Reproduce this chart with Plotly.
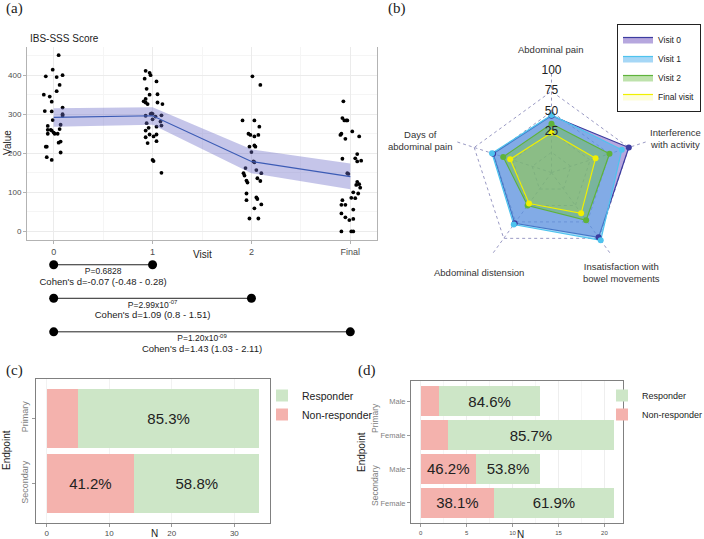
import plotly.graph_objects as go

W, H = 704, 539


def px(x):
    return x / W


def py(y):
    return 1 - y / H


SANS = "Liberation Sans"
SERIF = "Liberation Serif"
GREY_TXT = "#4d4d4d"

# ---------------- panel (a): IBS-SSS score per visit ----------------
visit_ticks = [0, 1, 2, 3]
visit_labels = ["0", "1", "2", "Final"]

# jitter and score for each patient point
v0_jit = [0.05, -0.01, -0.08, 0.09, 0.03, 0.06, 0.03, -0.10, -0.04, -0.02, -0.09,
          -0.02, 0.09, 0.09, 0.09, -0.01, 0.07, -0.06, -0.06, -0.03, -0.02, 0.06,
          0.00, 0.01, 0.04, -0.06, 0.05, 0.07, -0.08, -0.07, 0.07, -0.07, -0.02]
v0_score = [451, 414, 397, 400, 395, 375, 359, 350, 345, 332, 308,
            307, 317, 300, 296, 285, 273, 270, 260, 260, 258, 262,
            253, 250, 250, 250, 227, 230, 217, 217, 202, 190, 183]

v1_jit = [-0.07, -0.03, -0.02, -0.08, 0.04, -0.06, -0.03, 0.05, -0.07, -0.09, -0.07,
          -0.05, 0.05, 0.10, -0.01, -0.02, 0.00, -0.07, 0.09, 0.03, 0.00, 0.08,
          0.09, -0.06, 0.04, -0.04, -0.07, -0.03, 0.04, -0.07, 0.01, 0.04, -0.05,
          0.00, 0.01, 0.09]
v1_score = [411, 406, 400, 391, 384, 365, 350, 351, 339, 333, 330,
            326, 330, 326, 302, 301, 301, 296, 297, 294, 287, 281,
            271, 277, 268, 265, 258, 248, 248, 241, 243, 231, 226,
            183, 180, 150]

v2_jit = [0.01, 0.09, -0.09, 0.03, 0.08, -0.03, -0.01, 0.03, 0.07, 0.03, 0.04,
          -0.02, 0.00, 0.02, 0.03, -0.06, -0.08, -0.07, 0.05, 0.10, 0.06, -0.05,
          -0.04, 0.09, -0.05, -0.05, 0.05, 0.06, 0.10, 0.03, -0.02, 0.07]
v2_score = [397, 375, 284, 284, 268, 250, 247, 243, 247, 220, 217,
            217, 203, 179, 177, 162, 149, 143, 157, 149, 136, 130,
            125, 129, 97, 80, 87, 83, 69, 59, 33, 33]

v3_jit = [-0.07, -0.08, -0.06, -0.04, -0.03, -0.09, -0.10, 0.02, -0.05, 0.09, 0.07,
          0.05, -0.08, -0.03, -0.02, 0.07, 0.07, 0.06, 0.09, 0.03, 0.08, 0.01,
          0.05, -0.08, -0.09, -0.05, -0.09, 0.03, -0.05, -0.01, 0.03, -0.09, 0.01,
          0.03, 0.10, 0.11]
v3_score = [333, 290, 284, 284, 284, 250, 247, 256, 237, 243, 198,
            187, 186, 149, 147, 179, 127, 119, 121, 100, 97, 86,
            85, 80, 68, 68, 46, 56, 36, 29, 32, 0, 0,
            0, 112, 181]

mean_score = [292, 296, 179, 140]
ci_low = [268, 273, 149, 108]
ci_high = [315, 318, 210, 174]

# pairwise comparisons with visit 0
comp_start = [0, 0, 0]
comp_end = [1, 2, 3]
comp_row = [1, 2, 3]
p_text = ["P=0.6828", "P=2.99x10<sup>-07</sup>", "P=1.20x10<sup>-09</sup>"]
cohen_text = ["Cohen's d=-0.07 (-0.48 - 0.28)",
              "Cohen's d=1.09 (0.8 - 1.51)",
              "Cohen's d=1.43 (1.03 - 2.11)"]

# ---------------- panel (b): radar chart ----------------
radar_axes = ["Abdominal pain", "Interference<br>with activity",
              "Insatisfaction with<br>bowel movements", "Abdominal distension",
              "Days of<br>abdominal pain"]
radar_ticks = [0, 25, 50, 75, 100]
visit0_vals = [45, 75, 73.5, 52, 50.5]
visit1_vals = [46, 66, 78, 54, 52]
visit2_vals = [35, 50, 47.5, 25, 37.5]
final_vals = [24, 32, 37, 22, 28.5]

# ---------------- panel (c): responders by endpoint ----------------
endpoints_c = ["Primary", "Secondary"]
nonresp_c = [5, 14]
resp_c = [29, 20]
nonresp_c_lbl = [None, "41.2%"]
resp_c_lbl = ["85.3%", "58.8%"]

# ---------------- panel (d): responders by endpoint and sex ----------------
endpoint_d = ["Primary", "Primary", "Secondary", "Secondary"]
sex_d = ["Male", "Female", "Male", "Female"]
nonresp_d = [2, 3, 6, 8]
resp_d = [11, 18, 7, 13]
nonresp_d_lbl = [None, None, "46.2%", "38.1%"]
resp_d_lbl = ["84.6%", "85.7%", "53.8%", "61.9%"]

RESP_COL = "#cde6c7"
NONRESP_COL = "#f4b2ad"

fig = go.Figure()

# ---- (a) points
for v, (jit, score) in enumerate([(v0_jit, v0_score), (v1_jit, v1_score),
                                  (v2_jit, v2_score), (v3_jit, v3_score)]):
    fig.add_trace(go.Scatter(
        x=[v + j for j in jit], y=score, mode="markers",
        marker=dict(color="black", size=3.8),
        xaxis="x", yaxis="y", showlegend=False, hoverinfo="y"
    ))

# ribbon + mean line
fig.add_trace(go.Scatter(x=visit_ticks, y=ci_high, mode="lines",
                         line=dict(width=0), xaxis="x", yaxis="y",
                         showlegend=False))
fig.add_trace(go.Scatter(x=visit_ticks, y=ci_low, mode="lines",
                         line=dict(width=0), fill="tonexty",
                         fillcolor="rgba(110,110,200,0.4)",
                         xaxis="x", yaxis="y", showlegend=False))
fig.add_trace(go.Scatter(x=visit_ticks, y=mean_score, mode="lines",
                         line=dict(color="#3b5bb5", width=1.2),
                         xaxis="x", yaxis="y", showlegend=False))

# comparison brackets
for s, e, r, pt, ct in zip(comp_start, comp_end, comp_row, p_text, cohen_text):
    fig.add_trace(go.Scatter(
        x=[s, e], y=[r, r], mode="lines+markers",
        line=dict(color="#222222", width=1),
        marker=dict(color="black", size=9),
        xaxis="x2", yaxis="y2", showlegend=False
    ))
    fig.add_trace(go.Scatter(
        x=[(s + e) / 2, (s + e) / 2], y=[r + 0.22, r + 0.53],
        mode="text", text=[pt, ct],
        textfont=dict(family=SANS, size=[8.5, 9.5], color="#222222"),
        xaxis="x2", yaxis="y2", showlegend=False
    ))

# ---- (b) radar
radar_series = [
    ("Visit 0", visit0_vals, "#3c3ca0", "rgba(110,80,190,0.50)"),
    ("Visit 1", visit1_vals, "#4ec3ee", "rgba(78,175,238,0.50)"),
    ("Visit 2", visit2_vals, "#5fb33b", "rgba(110,190,70,0.45)"),
    ("Final visit", final_vals, "#f0f000", "rgba(240,240,0,0.15)"),
]
theta_closed = radar_axes + [radar_axes[0]]
for name, vals, line_col, fill_col in radar_series:
    fig.add_trace(go.Scatterpolar(
        r=vals + [vals[0]], theta=theta_closed, mode="lines",
        fill="toself", fillcolor=fill_col,
        line=dict(color=line_col, width=1.2),
        name=name, legend="legend", subplot="polar"
    ))
for name, vals, line_col, fill_col in radar_series:
    fig.add_trace(go.Scatterpolar(
        r=vals, theta=radar_axes, mode="markers",
        marker=dict(color=line_col, size=6),
        showlegend=False, subplot="polar"
    ))
fig.add_trace(go.Scatterpolar(
    r=radar_ticks, theta=[radar_axes[0]] * len(radar_ticks), mode="text",
    text=[str(t) for t in radar_ticks],
    textfont=dict(family=SANS, size=12, color="#222222"),
    showlegend=False, subplot="polar"
))

# ---- (c) stacked bars
fig.add_trace(go.Bar(
    y=endpoints_c, x=nonresp_c, orientation="h", name="Non-responder",
    marker=dict(color=NONRESP_COL, line=dict(width=0)),
    text=nonresp_c_lbl, textposition="inside", insidetextanchor="middle",
    textfont=dict(family=SANS, size=15, color="#222222"),
    xaxis="x3", yaxis="y3", legend="legend2"
))
fig.add_trace(go.Bar(
    y=endpoints_c, x=resp_c, orientation="h", name="Responder",
    marker=dict(color=RESP_COL, line=dict(width=0)),
    text=resp_c_lbl, textposition="inside", insidetextanchor="middle",
    textfont=dict(family=SANS, size=15, color="#222222"),
    xaxis="x3", yaxis="y3", legend="legend2"
))

# ---- (d) stacked bars by sex
keys_d = [f"{e} {s}" for e, s in zip(endpoint_d, sex_d)]
fig.add_trace(go.Bar(
    y=keys_d, x=nonresp_d, orientation="h", name="Non-responder",
    marker=dict(color=NONRESP_COL, line=dict(width=0)),
    text=nonresp_d_lbl, textposition="inside", insidetextanchor="middle",
    textfont=dict(family=SANS, size=15, color="#222222"),
    xaxis="x4", yaxis="y4", legend="legend3"
))
fig.add_trace(go.Bar(
    y=keys_d, x=resp_d, orientation="h", name="Responder",
    marker=dict(color=RESP_COL, line=dict(width=0)),
    text=resp_d_lbl, textposition="inside", insidetextanchor="middle",
    textfont=dict(family=SANS, size=15, color="#222222"),
    xaxis="x4", yaxis="y4", legend="legend3"
))

tick_font = dict(family=SANS, size=8, color=GREY_TXT)

fig.update_layout(
    width=W, height=H,
    margin=dict(l=0, r=0, t=0, b=0, autoexpand=False),
    paper_bgcolor="white", plot_bgcolor="white",
    font=dict(family=SANS, color="#222222"),
    barmode="stack", bargap=0.1,
    uniformtext=dict(minsize=8, mode="show"),
    # (a)
    xaxis=dict(domain=[px(27), px(377)], range=[-0.27, 3.27],
               tickvals=visit_ticks, ticktext=visit_labels,
               tickfont=dict(family=SANS, size=9, color=GREY_TXT),
               showgrid=True, gridcolor="#ebebeb", zeroline=False,
               minor=dict(tickvals=[0.5, 1.5, 2.5], showgrid=True,
                          gridcolor="#f5f5f5"),
               ticks="outside", ticklen=3, tickcolor="#b3b3b3",
               showline=True, linecolor="#b3b3b3", linewidth=1,
               anchor="y"),
    yaxis=dict(domain=[py(240), py(47)], range=[-22, 472],
               tickvals=[0, 100, 200, 300, 400],
               tickfont=tick_font,
               showgrid=True, gridcolor="#ebebeb", zeroline=False,
               minor=dict(tickvals=[50, 150, 250, 350, 450], showgrid=True,
                          gridcolor="#f5f5f5"),
               ticks="outside", ticklen=3, tickcolor="#b3b3b3",
               showline=True, mirror=True, linecolor="#b3b3b3", linewidth=1,
               anchor="x"),
    xaxis2=dict(domain=[px(27), px(377)], range=[-0.27, 3.27],
                visible=False, anchor="y2"),
    yaxis2=dict(domain=[py(362), py(248)], range=[3.9, 0.5],
                visible=False, anchor="x2"),
    # (b)
    polar=dict(
        domain=dict(x=[px(449.9), px(653.1)], y=[py(274.2), py(71)]),
        gridshape="linear", bgcolor="rgba(0,0,0,0)",
        radialaxis=dict(range=[-25, 100], tickvals=radar_ticks,
                        showticklabels=False, ticks="", showline=False,
                        gridcolor="#9a9ac4", griddash="dot", gridwidth=1),
        angularaxis=dict(type="category", categoryarray=radar_axes,
                         rotation=90, direction="clockwise",
                         gridcolor="#9a9ac4", griddash="dot", gridwidth=1,
                         showline=False, ticks="", showticklabels=False),
    ),
    # (c)
    xaxis3=dict(domain=[px(36), px(270)], range=[-1.7, 35.7],
                tickvals=[0, 10, 20, 30], tickfont=tick_font,
                showgrid=True, gridcolor="#f2f2f2", zeroline=False,
                ticks="outside", ticklen=3, tickcolor="#999999",
                showline=True, mirror=True, linecolor="#808080", linewidth=1,
                anchor="y3"),
    yaxis3=dict(domain=[py(522.7), py(379)], range=[1.6, -0.6],
                type="category", categoryarray=endpoints_c,
                tickangle=-90, tickfont=dict(family=SANS, size=9, color="#7f7f7f"),
                showgrid=False, zeroline=False,
                ticks="outside", ticklen=3, tickcolor="#999999",
                showline=True, mirror=True, linecolor="#808080", linewidth=1,
                anchor="x3"),
    # (d)
    xaxis4=dict(domain=[px(411), px(623.3)], range=[-1.05, 22.05],
                tickvals=[0, 5, 10, 15, 20],
                tickfont=dict(family=SANS, size=6, color=GREY_TXT),
                showgrid=True, gridcolor="#eeeeee", zeroline=False,
                minor=dict(tickvals=[2.5, 7.5, 12.5, 17.5], showgrid=True,
                           gridcolor="#f6f6f6"),
                ticks="outside", ticklen=3, tickcolor="#999999",
                showline=True, mirror=True, linecolor="#808080", linewidth=1,
                anchor="y4"),
    yaxis4=dict(domain=[py(523.3), py(380.7)], range=[3.6, -0.6],
                type="category", categoryarray=keys_d,
                tickvals=keys_d, ticktext=sex_d,
                tickfont=dict(family=SANS, size=7.5, color="#7f7f7f"),
                showgrid=False, zeroline=False,
                ticks="outside", ticklen=3, tickcolor="#999999",
                showline=True, mirror=True, linecolor="#808080", linewidth=1,
                anchor="x4"),
    legend=dict(x=px(701), y=py(24), xanchor="right", yanchor="top",
                bordercolor="#222222", borderwidth=1, bgcolor="white",
                font=dict(family=SANS, size=8.5), tracegroupgap=0,
                traceorder="normal", itemwidth=30),
    legend2=dict(x=px(262), y=py(381), xanchor="left", yanchor="top",
                 font=dict(family=SANS, size=10.5), traceorder="reversed",
                 bgcolor="rgba(0,0,0,0)", itemwidth=30),
    legend3=dict(x=px(602), y=py(381), xanchor="left", yanchor="top",
                 font=dict(family=SANS, size=9), traceorder="reversed",
                 bgcolor="rgba(0,0,0,0)", itemwidth=30),
)

annotations = [
    dict(text="(a)", x=px(4), y=py(8), font=dict(family=SERIF, size=15)),
    dict(text="(b)", x=px(386), y=py(8), font=dict(family=SERIF, size=15)),
    dict(text="(c)", x=px(4), y=py(370), font=dict(family=SERIF, size=15)),
    dict(text="(d)", x=px(356), y=py(370), font=dict(family=SERIF, size=15)),
    dict(text="IBS-SSS Score", x=px(28), y=py(38), font=dict(size=10)),
]
for a in annotations:
    a.update(xref="paper", yref="paper", xanchor="left", yanchor="middle",
             showarrow=False)

centered = [
    dict(text="Value", x=px(7), y=py(143), textangle=-90, font=dict(size=10)),
    dict(text="Visit", x=px(202), y=py(254), font=dict(size=10)),
    dict(text="Endpoint", x=px(6), y=py(450), textangle=-90, font=dict(size=10)),
    dict(text="N", x=px(154), y=py(533), font=dict(size=10)),
    dict(text="Endpoint", x=px(361), y=py(452), textangle=-90, font=dict(size=10)),
    dict(text="N", x=px(520), y=py(534), font=dict(size=10)),
    dict(text="Primary", x=px(375), y=py(418), textangle=-90,
         font=dict(size=8.5, color="#7f7f7f")),
    dict(text="Secondary", x=px(375), y=py(486), textangle=-90,
         font=dict(size=8.5, color="#7f7f7f")),
]

# radar axis names placed around the outer pentagon
radar_label_xy = [(551, 49), (675, 139), (621, 273), (479, 272), (420, 140)]
for name, (lx, ly) in zip(radar_axes, radar_label_xy):
    centered.append(dict(text=name, x=px(lx), y=py(ly),
                         font=dict(size=9.5, color="#333333")))

for a in centered:
    a.update(xref="paper", yref="paper", xanchor="center", yanchor="middle",
             showarrow=False)

fig.update_layout(annotations=annotations + centered)

# the page body has a default 8px margin; drop it so the figure fills the window
fig.write_html("out.html",
               config={"displayModeBar": False},
               post_script="document.body.style.margin='0';"
                           "document.body.style.overflow='hidden';")
